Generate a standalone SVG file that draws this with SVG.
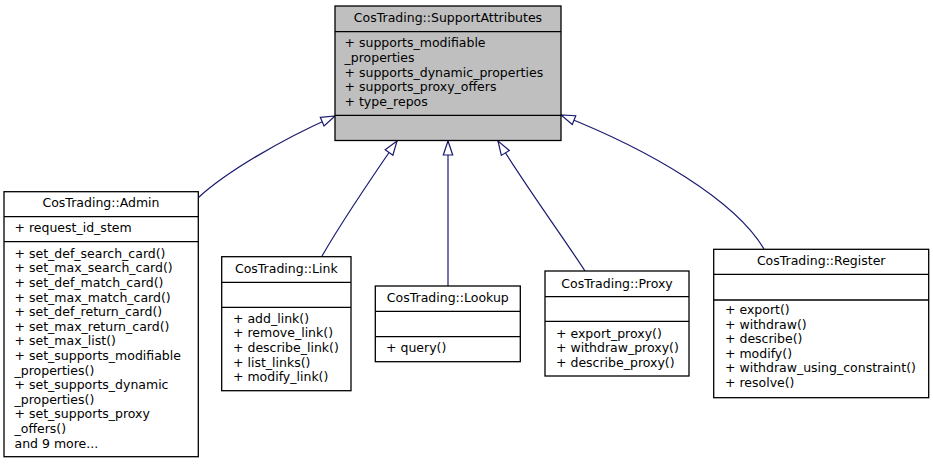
<svg xmlns="http://www.w3.org/2000/svg" width="933" height="464" viewBox="0 0 933 464">
<style>
text{font-family:"DejaVu Sans","Liberation Sans",sans-serif;font-size:12.5px;fill:#000}
.t{text-anchor:middle}
.box{fill:#fff;stroke:#000;stroke-width:1.3}
.base{fill:#bfbfbf;stroke:#000;stroke-width:1.3}
.sep{stroke:#000;stroke-width:1.3}
.edge{fill:none;stroke:#191970;stroke-width:1.2}
</style>
<defs>
<marker id="tri" markerUnits="userSpaceOnUse" markerWidth="16" markerHeight="12" refX="14" refY="5" orient="auto" overflow="visible">
<path d="M0,0.3 L14,5 L0,9.7 Z" fill="#fff" stroke="#191970" stroke-width="1.2"/>
</marker>
</defs>
<rect width="933" height="464" fill="#fff"/>
<g id="edges">
<path class="edge" d="M198,198 C225,173 280,140 335,116" marker-end="url(#tri)"/>
<path class="edge" d="M322,256 C340,225 370,180 397,141" marker-end="url(#tri)"/>
<path class="edge" d="M448,286 L448,141" marker-end="url(#tri)"/>
<path class="edge" d="M585,271 C565,240 525,185 498,141" marker-end="url(#tri)"/>
<path class="edge" d="M764,249 C735,200 650,150 561,115" marker-end="url(#tri)"/>
</g>
<g id="SupportAttributes">
<rect class="base" x="335" y="6" width="226" height="134.5"/>
<line class="sep" x1="335" y1="31.7" x2="561" y2="31.7"/>
<line class="sep" x1="335" y1="115.3" x2="561" y2="115.3"/>
<text class="t" x="448" y="22">CosTrading::SupportAttributes</text>
<text x="344.5" y="47.4">+ supports_modifiable</text>
<text x="344.5" y="62">_properties</text>
<text x="344.5" y="76.6">+ supports_dynamic_properties</text>
<text x="344.5" y="91.2">+ supports_proxy_offers</text>
<text x="344.5" y="105.8">+ type_repos</text>
</g>
<g id="Admin">
<rect class="box" x="4" y="191.7" width="194.3" height="265"/>
<line class="sep" x1="4" y1="216.7" x2="198.3" y2="216.7"/>
<line class="sep" x1="4" y1="241.7" x2="198.3" y2="241.7"/>
<text class="t" x="101" y="207.3">CosTrading::Admin</text>
<text x="14.5" y="232.3">+ request_id_stem</text>
<text x="14.5" y="257.7">+ set_def_search_card()</text>
<text x="14.5" y="272.3">+ set_max_search_card()</text>
<text x="14.5" y="286.9">+ set_def_match_card()</text>
<text x="14.5" y="301.5">+ set_max_match_card()</text>
<text x="14.5" y="316.1">+ set_def_return_card()</text>
<text x="14.5" y="330.7">+ set_max_return_card()</text>
<text x="14.5" y="345.3">+ set_max_list()</text>
<text x="14.5" y="359.9">+ set_supports_modifiable</text>
<text x="14.5" y="374.5">_properties()</text>
<text x="14.5" y="389.1">+ set_supports_dynamic</text>
<text x="14.5" y="403.7">_properties()</text>
<text x="14.5" y="418.3">+ set_supports_proxy</text>
<text x="14.5" y="432.9">_offers()</text>
<text x="14.5" y="447.5">and 9 more...</text>
</g>
<g id="Link">
<rect class="box" x="221.7" y="256.7" width="129.3" height="134"/>
<line class="sep" x1="221.7" y1="282.3" x2="351" y2="282.3"/>
<line class="sep" x1="221.7" y1="307.3" x2="351" y2="307.3"/>
<text class="t" x="286.3" y="272.7">CosTrading::Link</text>
<text x="233" y="322.7">+ add_link()</text>
<text x="233" y="337.3">+ remove_link()</text>
<text x="233" y="351.9">+ describe_link()</text>
<text x="233" y="366.5">+ list_links()</text>
<text x="233" y="381.1">+ modify_link()</text>
</g>
<g id="Lookup">
<rect class="box" x="375.3" y="286" width="145" height="75.7"/>
<line class="sep" x1="375.3" y1="311.3" x2="520.3" y2="311.3"/>
<line class="sep" x1="375.3" y1="336.7" x2="520.3" y2="336.7"/>
<text class="t" x="447.8" y="301.7">CosTrading::Lookup</text>
<text x="386" y="351.7">+ query()</text>
</g>
<g id="Proxy">
<rect class="box" x="545" y="271" width="144" height="105"/>
<line class="sep" x1="545" y1="296.7" x2="689" y2="296.7"/>
<line class="sep" x1="545" y1="321.3" x2="689" y2="321.3"/>
<text class="t" x="617" y="287.7">CosTrading::Proxy</text>
<text x="556" y="337.7">+ export_proxy()</text>
<text x="556" y="352.3">+ withdraw_proxy()</text>
<text x="556" y="366.9">+ describe_proxy()</text>
</g>
<g id="Register">
<rect class="box" x="713.7" y="249.3" width="215" height="148.4"/>
<line class="sep" x1="713.7" y1="274.3" x2="928.7" y2="274.3"/>
<line class="sep" x1="713.7" y1="300" x2="928.7" y2="300"/>
<text class="t" x="821.2" y="265">CosTrading::Register</text>
<text x="725" y="314">+ export()</text>
<text x="725" y="328.6">+ withdraw()</text>
<text x="725" y="343.2">+ describe()</text>
<text x="725" y="357.8">+ modify()</text>
<text x="725" y="372.4">+ withdraw_using_constraint()</text>
<text x="725" y="387">+ resolve()</text>
</g>
</svg>
